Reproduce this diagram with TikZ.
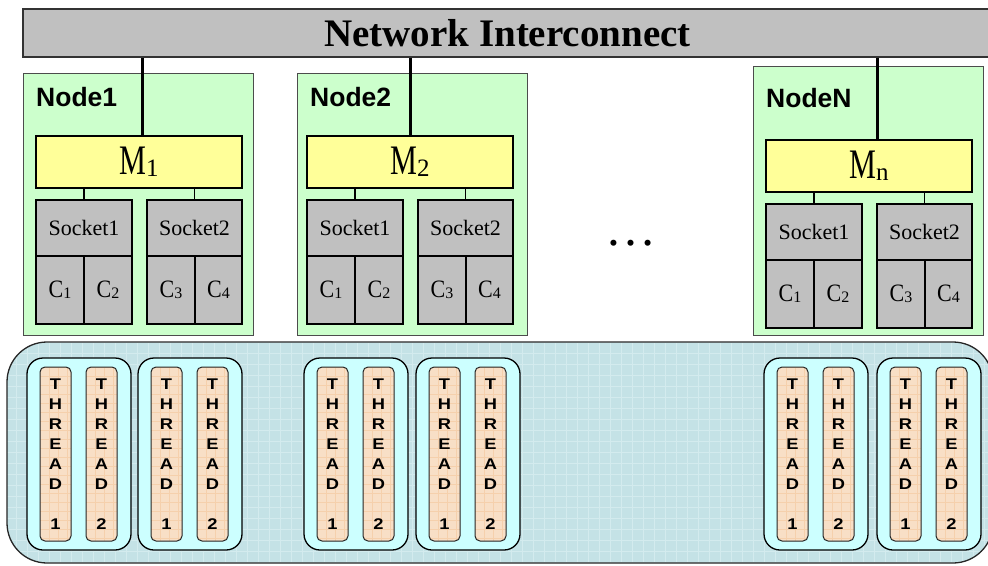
\documentclass[tikz,border=0pt]{standalone}
\usepackage{fontspec}
\setmainfont{Liberation Serif}
\newfontfamily\arialfont{Liberation Sans}

\definecolor{netgray}{HTML}{C0C0C0}
\definecolor{nodegreen}{HTML}{CCFFCC}
\definecolor{memyellow}{HTML}{FFFF99}
\definecolor{sockgray}{HTML}{C0C0C0}
\definecolor{poolblue}{HTML}{C4E2E6}
\definecolor{poolline}{HTML}{D3EBEE}
\definecolor{grpcyan}{HTML}{CCFFFF}
\definecolor{thrtan}{HTML}{F8DFC6}
\definecolor{thrline}{HTML}{F5D0AC}

% memory and core labels: letter plus lowered index
\newcommand\memlabel[1]{{\scalebox{0.72}[1]{\fontsize{42}{42}\selectfont M}\fontsize{25}{25}\selectfont\raisebox{-2pt}{#1}}}
\newcommand\corelabel[1]{{\scalebox{0.88}[1]{\fontsize{25}{25}\selectfont C}\fontsize{16}{16}\selectfont\raisebox{-1pt}{#1}}}
% stacked thread caption with slightly widened letters
\newcommand\wideletter[1]{\scalebox{1.18}[1]{#1}}
\newcommand\threadtext[1]{\wideletter{T}\\\wideletter{H}\\\wideletter{R}\\\wideletter{E}\\\wideletter{A}\\\wideletter{D}\\[20pt]\wideletter{#1}}

\tikzset{
  netbar/.style={draw=black!80, line width=1.3pt, fill=netgray, minimum width=969pt,
    minimum height=48pt, inner sep=0pt, font=\fontsize{39}{39}\selectfont\bfseries},
  nodebox/.style={draw=black!70, line width=1pt, fill=nodegreen, minimum width=230pt, inner sep=0pt},
  nodelabel/.style={inner sep=0pt, font=\arialfont\bfseries\fontsize{26.5}{26.5}\selectfont},
  membox/.style={draw=black, line width=1.3pt, fill=memyellow, minimum width=206pt,
    minimum height=52pt, inner sep=0pt},
  sockbox/.style={draw=black, line width=1.3pt, fill=sockgray, minimum height=56pt,
    inner sep=0pt, font=\fontsize{22}{22}\selectfont},
  corebox/.style={draw=black, line width=1.3pt, fill=sockgray, minimum height=68pt, inner sep=0pt},
  wire/.style={line width=1.3pt},
  bus/.style={line width=3pt},
  poolbox/.style={draw=black!85, line width=1.3pt, fill=poolblue, rounded corners=40pt,
    minimum width=986pt, minimum height=221pt, inner sep=0pt,
    path picture={\draw[poolline, line width=0.7pt, step=11pt]
      (path picture bounding box.south west) grid (path picture bounding box.north east);}},
  grpbox/.style={draw=black, line width=1.3pt, fill=grpcyan, rounded corners=16pt,
    minimum width=104pt, minimum height=192pt, inner sep=0pt},
  thrbox/.style={draw=black!85, line width=1pt, fill=thrtan, rounded corners=5pt,
    minimum width=31pt, minimum height=174pt, inner sep=0pt, align=center,
    font=\arialfont\bfseries\fontsize{15.5}{20}\selectfont,
    path picture={\draw[thrline, line width=0.5pt, step=9pt]
      (path picture bounding box.south west) grid (path picture bounding box.north east);}},
}

\begin{document}
\begin{tikzpicture}[x=1pt, y=-1pt]
\useasboundingbox (0,0) rectangle (988,565);

% shared thread pool
\node[poolbox] (pool) at (500,452.5) {};

% network bar
\node[netbar] (net) at (507.5,33) {Network Interconnect};

% compute nodes: index / box left / box top / memory left / memory top / tap x / label baseline / name / index text
\foreach \i/\bx/\by/\mx/\my/\lx/\ly/\lab/\sub in
  {1/23/73/36/136/142/106/Node1/1,
   2/297/73/307/136/410/106/Node2/2,
   n/753/66/766/140/877/107/NodeN/n}
{
  \node[nodebox, minimum height={(335-\by)*1pt}] (box\i) at ({\bx+115},{(335+\by)/2}) {};
  \node[nodelabel, anchor=base west] (lab\i) at ({\bx+13},\ly) {\lab};
  \node[membox] (m\i) at ({\mx+103},{\my+26}) {\memlabel{\sub}};
  \coordinate (tap\i) at (\lx,\my);
  \draw[bus] (net.south -| tap\i) -- (tap\i);
  % sockets
  \node[sockbox, minimum width=96pt] (sl\i) at ({\mx+48},{\my+92}) {Socket1};
  \node[sockbox, minimum width=95pt] (sr\i) at ({\mx+158.5},{\my+92}) {Socket2};
  % cores
  \node[corebox, minimum width=48pt] (ca\i) at ({\mx+24},{\my+154}) {\corelabel{1}};
  \node[corebox, minimum width=48pt] (cb\i) at ({\mx+72},{\my+154}) {\corelabel{2}};
  \node[corebox, minimum width=48pt] (cc\i) at ({\mx+135},{\my+154}) {\corelabel{3}};
  \node[corebox, minimum width=47pt] (cd\i) at ({\mx+182.5},{\my+154}) {\corelabel{4}};
  % memory to sockets
  \draw[wire] (m\i.south -| sl\i.north) -- (sl\i.north);
  \draw[wire] (m\i.south -| sr\i.north) -- (sr\i.north);
}

% gap between node 2 and node N
\node[font=\fontsize{51}{51}\selectfont, anchor=base, inner sep=0pt] (dots) at (631,245) {…};

% thread groups
\foreach \g/\gx in {1/27, 2/138, 3/304, 4/416, 5/764, 6/877}
{
  \node[grpbox] (g\g) at ({\gx+52},454) {};
  \node[thrbox] (ta\g) at ({\gx+28.5},454) {\threadtext{1}};
  \node[thrbox] (tb\g) at ({\gx+74.5},454) {\threadtext{2}};
}
\end{tikzpicture}
\end{document}
